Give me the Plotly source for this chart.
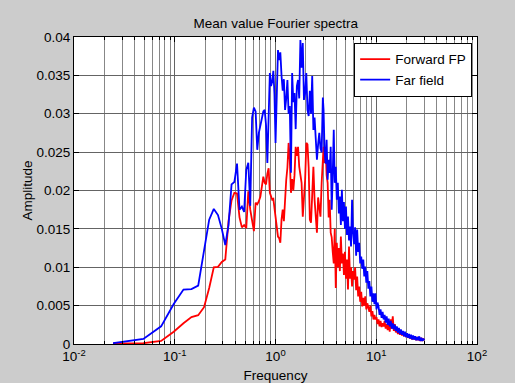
import numpy as np
import plotly.graph_objects as go

# Frequency grid: native FFT bins below 1 Hz, thinned log grid above
df = 1 / 40.96
freq_low = [k * df for k in range(1, 42)]
freq_mid = list(np.geomspace(1.03, 2.95, 40))
freq_high = list(np.geomspace(3.0, 30.0, 100))
freq = freq_low + freq_mid + freq_high

amp_scale = 1e-3  # amplitudes below are in units of 1e-3

# Forward FP mean spectrum
fp_low = [0.05, 0.1, 0.4, 1.6, 2.7, 3.5, 3.75, 4.8, 7.3, 10.0,
          10.05, 10.7, 11.0, 16.0, 18.7, 19.7, 19.6, 16.5, 15.2, 15.5,
          15.1, 19.9, 17.5, 16.0, 14.7, 18.4, 18.2, 18.6, 19.2, 20.5,
          21.8, 21.0, 20.8, 22.2, 22.9, 19.7, 19.2, 18.8, 18.9, 17.5,
          16.6]
fp_mid = [15.0, 14.0, 13.8, 13.2, 16.2, 17.5, 16.0, 19.0, 21.4, 23.0,
          26.2, 24.0, 19.7, 21.5, 20.0, 22.0, 25.7, 24.5, 25.7, 23.1,
          22.0, 21.0, 16.6, 18.5, 21.4, 26.2, 26.0, 23.0, 16.2, 15.8,
          19.0, 23.1, 18.8, 16.0, 14.5, 19.1, 17.5, 16.6, 21.0, 25.7]
fp_high = [25.7, 23.6, 25.4, 22.0, 21.0, 16.5, 18.8, 14.5, 13.9, 12.0,
           10.5, 15.0, 7.3, 13.2, 10.0, 12.5, 9.5, 14.0, 10.5, 11.8,
           9.0, 12.0, 8.5, 11.0, 7.1, 12.7, 8.5, 10.0, 7.5, 9.5,
           8.4, 10.0, 7.0, 8.8, 6.2, 7.5, 5.5, 6.8, 4.9, 6.0,
           5.0, 6.2, 4.5, 5.3, 4.9, 4.2, 5.0, 3.6, 4.3, 3.2,
           3.8, 3.2, 3.5, 2.6, 3.2, 2.3, 3.0, 2.2, 2.7, 2.3,
           3.0, 2.0, 2.6, 1.8, 2.8, 1.6, 3.2, 2.0, 3.6, 1.7,
           2.6, 1.5, 2.2, 1.3, 2.0, 1.2, 1.8, 1.1, 1.6, 1.0,
           1.5, 0.9, 1.4, 0.8, 1.2, 0.7, 1.1, 0.6, 1.0, 0.6,
           0.9, 0.5, 0.9, 0.5, 0.8, 0.4, 0.8, 0.4, 0.7, 0.5]

# Far field mean spectrum
ff_low = [0.1, 0.65, 2.3, 5.2, 7.1, 7.15, 7.6, 12.4, 16.2, 17.6,
          16.8, 15.0, 12.9, 15.5, 20.8, 21.1, 23.5, 17.5, 17.9, 17.2,
          22.7, 23.6, 18.0, 29.5, 30.8, 30.3, 25.3, 27.5, 28.4, 29.5,
          30.3, 30.5, 28.5, 23.6, 32.0, 35.3, 33.6, 34.2, 35.6, 32.5,
          26.2]
ff_mid = [33.0, 38.3, 37.0, 38.0, 35.0, 33.0, 34.5, 30.5, 32.0, 34.4,
          30.0, 31.0, 22.3, 35.3, 31.5, 32.7, 28.0, 33.6, 34.4, 32.0,
          39.6, 36.0, 39.2, 31.8, 32.7, 35.3, 30.5, 29.7, 33.0, 30.0,
          34.9, 27.9, 29.5, 26.5, 24.0, 26.0, 27.5, 25.5, 25.0, 32.1]
ff_high = [30.5, 25.0, 23.5, 26.6, 21.4, 24.0, 22.3, 25.7, 17.5, 22.0,
           27.9, 21.0, 23.1, 18.8, 21.0, 17.0, 19.2, 15.5, 20.1, 16.0,
           18.5, 15.0, 17.9, 14.2, 16.6, 13.5, 15.3, 12.7, 18.8, 14.5,
           13.0, 15.2, 11.5, 14.9, 12.0, 13.2, 10.5, 11.4, 9.8, 11.0,
           8.8, 10.1, 8.0, 9.5, 7.2, 8.2, 6.2, 7.5, 5.5, 6.6,
           5.2, 6.6, 4.5, 5.4, 4.9, 3.8, 4.5, 3.4, 4.2, 3.2,
           3.8, 2.8, 3.6, 2.5, 3.3, 2.3, 3.0, 2.0, 2.7, 1.9,
           2.5, 1.7, 2.3, 1.5, 2.1, 1.3, 1.9, 1.2, 1.7, 1.0,
           1.6, 0.9, 1.4, 0.8, 1.3, 0.7, 1.2, 0.6, 1.1, 0.6,
           1.0, 0.5, 0.9, 0.5, 1.0, 0.4, 0.8, 0.4, 0.7, 0.5]

amp_fp = [v * amp_scale for v in fp_low + fp_mid + fp_high]
amp_ff = [v * amp_scale for v in ff_low + ff_mid + ff_high]

x_tickvals = [0.01, 0.1, 1, 10, 100]
x_ticktext = ["10<sup>-2</sup>", "10<sup>-1</sup>", "10<sup>0</sup>",
              "10<sup>1</sup>", "10<sup>2</sup>"]
x_minor = [m * 10.0 ** e for e in range(-2, 2) for m in range(2, 10)]
y_tickvals = [0, 0.005, 0.01, 0.015, 0.02, 0.025, 0.03, 0.035, 0.04]
y_ticktext = ["0", "0.005", "0.01", "0.015", "0.02", "0.025", "0.03",
              "0.035", "0.04"]

FONT = "Liberation Sans, Arial, sans-serif"
FS = 13.5
GRID_MAJOR = "rgb(100,100,100)"
GRID_MINOR = "rgb(135,135,135)"

fig = go.Figure()
fig.add_trace(go.Scatter(x=freq, y=amp_fp, mode="lines", name="Forward FP",
                         line=dict(color="#ff0000", width=1.8)))
fig.add_trace(go.Scatter(x=freq, y=amp_ff, mode="lines", name="Far field",
                         line=dict(color="#0000ff", width=1.8)))

fig.update_layout(
    width=515, height=383,
    margin=dict(l=74, r=38, t=37, b=39, autoexpand=False),
    paper_bgcolor="rgb(204,204,204)",
    plot_bgcolor="white",
    font=dict(family=FONT, size=FS, color="black"),
    title=dict(text="Mean value Fourier spectra", x=0.5355, xanchor="center",
               y=1 - 23 / 383, yanchor="middle",
               font=dict(family=FONT, size=FS, color="black")),
    showlegend=True,
    legend=dict(x=0.988, xanchor="right", y=0.981, yanchor="top",
                bgcolor="white", bordercolor="black", borderwidth=1,
                font=dict(family=FONT, size=FS, color="black"),
                tracegroupgap=0),
)

fig.update_xaxes(
    type="log", range=[-2, 2],
    tickmode="array", tickvals=x_tickvals, ticktext=x_ticktext,
    ticks="inside", ticklen=5, tickcolor="black",
    showline=True, linecolor="black", linewidth=1, mirror="allticks",
    showgrid=True, gridcolor=GRID_MAJOR, gridwidth=1,
    minor=dict(tickmode="array", tickvals=x_minor, ticks="inside",
               ticklen=3, tickcolor="black", showgrid=True,
               gridcolor=GRID_MINOR, gridwidth=1),
    zeroline=False,
    title=dict(text="Frequency", standoff=7,
               font=dict(family=FONT, size=FS, color="black")),
    tickfont=dict(family=FONT, size=FS, color="black"),
)
fig.update_yaxes(
    range=[0, 0.04],
    tickmode="array", tickvals=y_tickvals, ticktext=y_ticktext,
    ticks="inside", ticklen=5, tickcolor="black",
    showline=True, linecolor="black", linewidth=1, mirror="allticks",
    showgrid=True, gridcolor=GRID_MAJOR, gridwidth=1,
    zeroline=False,
    title=dict(text="Amplitude", standoff=0,
               font=dict(family=FONT, size=FS, color="black")),
    tickfont=dict(family=FONT, size=FS, color="black"),
)

fig.write_html("out.html")
